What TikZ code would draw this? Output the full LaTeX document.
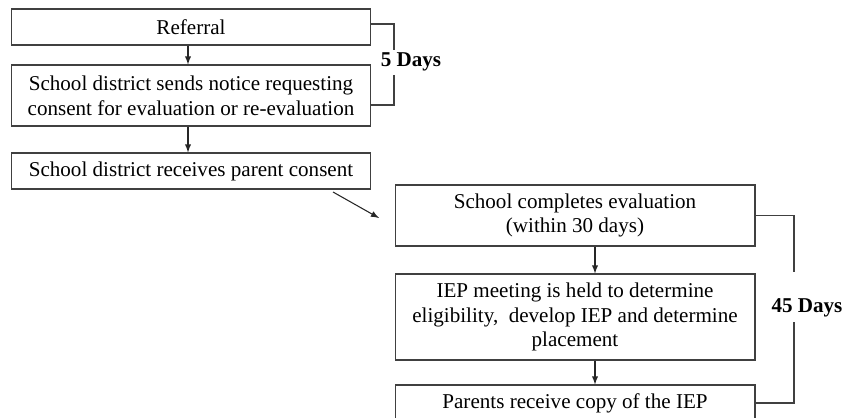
\documentclass[tikz,border=0pt]{standalone}
\usepackage{fontspec}
\setmainfont{Liberation Serif}
\usepackage{tikz}
\usetikzlibrary{arrows}
\usetikzlibrary{calc}
\tikzstyle{stepbox}=[rectangle,draw=black!75,line width=0.6pt,align=center,minimum width=7.2cm,inner sep=2pt,font=\fontsize{12}{14}\selectfont]
\tikzstyle{days}=[font=\fontsize{12}{14}\selectfont\bfseries,inner sep=0pt]
\tikzstyle{link}=[->,>=latex,draw=black!85,line width=0.6pt]
\tikzstyle{brace}=[draw=black!75,line width=0.6pt]

\begin{document}
\begin{tikzpicture}[x=0.02cm,y=-0.02cm]
  \useasboundingbox (0,0) rectangle (847,418);

  % boxes: name/x/y/height/text
  \foreach \name/\x/\y/\h/\txt in {b1/191/27/36/{Referral},
        b2/191/95.5/61/{School district sends notice requesting\\consent for evaluation or re-evaluation},
        b3/191/171/36/{School district receives parent consent},
        b4/575/215.5/61/{School completes evaluation\\(within 30 days)},
        b5/575/317/86/{IEP meeting is held to determine\\eligibility,\ \ develop IEP and determine\\placement},
        b6/575/403/36/{Parents receive copy of the IEP}}
     \node[stepbox,minimum height=\h*0.02cm] (\name) at (\x,\y) {\txt};

  \coordinate (lc) at (188,0);
  \coordinate (rc) at (595,0);
  \foreach \source/\dest in {b1/b2, b2/b3}
     \draw[link] (\source.south -| lc) -- (\dest.north -| lc);
  \foreach \source/\dest in {b4/b5, b5/b6}
     \draw[link] (\source.south -| rc) -- (\dest.north -| rc);

  \coordinate (a0) at (333,192);
  \coordinate (a1) at (379,218);
  \draw[link] (a0) -- (a1);

  % 5 days
  \node[days] (d5) at (411,62) {5 Days};
  \coordinate (t5) at (394,24);
  \coordinate (u5) at (394,105);
  \coordinate (g5a) at (394,50);
  \coordinate (g5b) at (394,75);
  \draw[brace] (b1.east |- t5) -- (t5) -- (g5a);
  \draw[brace] (g5b) -- (u5) -- (b2.east |- u5);

  % 45 days
  \node[days] (d45) at (807,308) {45 Days};
  \coordinate (t45) at (794,0);
  \coordinate (g45a) at (794,272);
  \coordinate (g45b) at (794,322);
  \draw[brace] (b4.east) -- (b4.east -| t45) -- (g45a);
  \draw[brace] (g45b) -- (b6.east -| t45) -- (b6.east);

\end{tikzpicture}
\end{document}
